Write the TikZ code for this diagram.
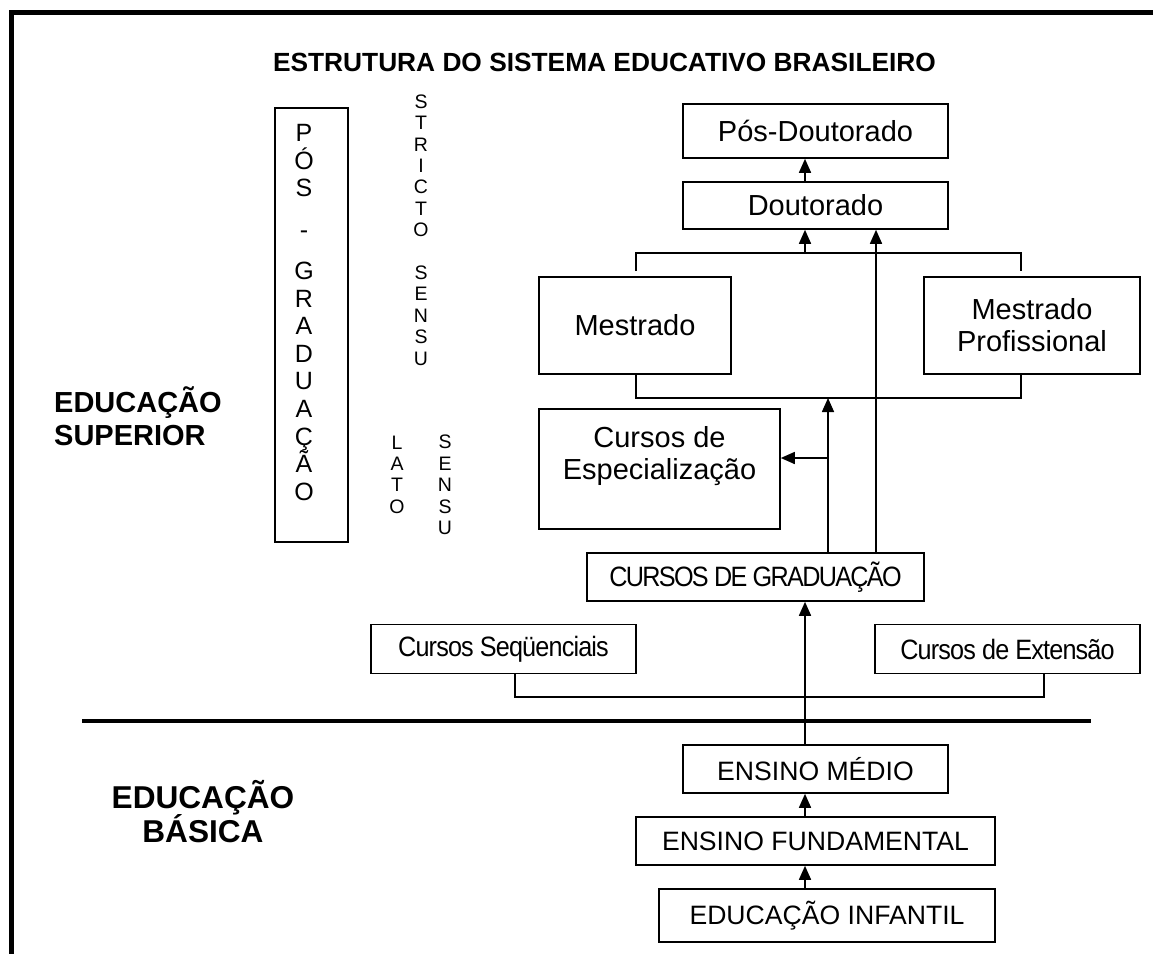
\documentclass[tikz,border=0pt]{standalone}
\usepackage{fontspec}
\setmainfont{Liberation Sans}
\newfontfamily\gradfont[FakeStretch=0.9, LetterSpace=-6]{Liberation Sans}
\newfontfamily\cursofont[FakeStretch=0.9, LetterSpace=-3]{Liberation Sans}
\usetikzlibrary{arrows.meta}
\lineskiplimit=-100bp

\begin{document}
\begin{tikzpicture}[x=1bp, y=-1bp,
	box/.style = {draw, line width=1.6bp, inner sep=0pt, align=center, font=\fontsize{29bp}{32.5bp}\selectfont},
	lowbox/.style = {box, font=\fontsize{26.6bp}{30bp}\selectfont},
	gradbox/.style = {box, font=\gradfont\fontsize{28bp}{30bp}\selectfont},
	cursobox/.style = {box, font=\cursofont\fontsize{28bp}{30bp}\selectfont},
	vtext/.style = {align=center, inner sep=0pt, font=\fontsize{19.5bp}{21.4bp}\selectfont},
	link/.style = {line width=1.6bp},
	arr/.style = {link, -{Triangle[length=14bp, width=12bp]}}]
	\useasboundingbox (0, 0) rectangle (1153, 954);
	\draw[line width=5bp] (11.5, 954) -- (11.5, 12.5) -- (1153, 12.5);

	\node (title) at (604.5, 62)	[font=\bfseries\fontsize{26.3bp}{30bp}\selectfont]	{ESTRUTURA DO SISTEMA EDUCATIVO BRASILEIRO};
	\node (ES) at (54, 416)	[anchor=west, align=left, inner sep=0pt, font=\bfseries\fontsize{29bp}{33bp}\selectfont]	{EDUCAÇÃO\\SUPERIOR};
	\node (EB) at (203, 811.5)	[align=center, inner sep=0pt, font=\bfseries\fontsize{31.6bp}{34bp}\selectfont]	{EDUCAÇÃO\\BÁSICA};

	% pos-graduacao column
	\node (PGB) at (311.5, 325)	[box, minimum width=73bp, minimum height=434bp]	{};
	\node (PG) at (304, 312.5)	[vtext, font=\fontsize{25bp}{27.6bp}\selectfont]	{P\\Ó\\S\\[13.8bp]-\\[13.8bp]G\\R\\A\\D\\U\\A\\Ç\\Ã\\O};
	\node (SS) at (421, 230)	[vtext]	{S\\T\\R\\I\\C\\T\\O\\~\\S\\E\\N\\S\\U};
	\node (LT) at (397, 474.5)	[vtext]	{L\\A\\T\\O};
	\node (LS) at (445, 485)	[vtext]	{S\\E\\N\\S\\U};

	% boxes
	\node (PD) at (815.5, 131)	[box, minimum width=265bp, minimum height=54bp]	{Pós-Doutorado};
	\node (D) at (815.5, 205.5)	[box, minimum width=265bp, minimum height=47bp]	{Doutorado};
	\node (M) at (635, 325.5)	[box, minimum width=192bp, minimum height=97bp]	{Mestrado};
	\node (MP) at (1032, 325.5)	[box, minimum width=216bp, minimum height=97bp, font=\fontsize{29bp}{32bp}\selectfont]	{Mestrado\\Profissional};
	\node (CE) at (659.5, 469)	[box, minimum width=241bp, minimum height=120bp]	{Cursos de\\Especialização\\~};
	\node (CG) at (755.5, 577)	[gradbox, minimum width=337bp, minimum height=48bp]	{CURSOS DE GRADUAÇÃO};
	\node (CS) at (503.5, 649)	[cursobox, minimum width=265bp, minimum height=49bp]	{Cursos Seqüenciais};
	\node (CX) at (1007.5, 649)	[cursobox, minimum width=265bp, minimum height=49bp]	{Cursos de Extensão};
	\node (EM) at (815.5, 769)	[lowbox, minimum width=265bp, minimum height=48bp]	{ENSINO MÉDIO};
	\node (EF) at (815.5, 841)	[lowbox, minimum width=359bp, minimum height=48bp]	{ENSINO FUNDAMENTAL};
	\node (EI) at (827, 915.5)	[lowbox, minimum width=336bp, minimum height=53bp]	{EDUCAÇÃO INFANTIL};

	% connector points
	\coordinate (X1) at (805, 0);
	\coordinate (X2) at (876, 0);
	\coordinate (X4) at (636, 0);
	\coordinate (X5) at (1021, 0);
	\coordinate (X6) at (515, 0);
	\coordinate (X7) at (1044, 0);
	\coordinate (T1) at (636, 271);
	\coordinate (T2) at (1021, 271);
	\coordinate (B1) at (805, 253);
	\coordinate (B2) at (828, 398);
	\coordinate (B3) at (828, 458);
	\coordinate (B4) at (805, 697);
	\coordinate (S1) at (82, 721);
	\coordinate (S2) at (1091, 721);

	\draw[arr] (D.north -| X1) -- (PD.south -| X1);
	\draw[link] (T1) |- (B1) -| (T2);
	\draw[arr] (B1) -- (D.south -| B1);
	\draw[arr] (CG.north -| X2) -- (D.south -| X2);
	\draw[link] (M.south -| X4) |- (B2) -| (MP.south -| X5);
	\draw[arr] (CG.north -| B2) -- (B2);
	\draw[arr] (B3) -- (CE.east |- B3);
	\draw[arr] (EM.north -| X1) -- (CG.south -| X1);
	\draw[link] (CS.south -| X6) |- (B4) -| (CX.south -| X7);
	\draw[arr] (EF.north -| X1) -- (EM.south -| X1);
	\draw[arr] (EI.north -| X1) -- (EF.south -| X1);
	\draw[line width=3.5bp] (S1) -- (S2);
\end{tikzpicture}
\end{document}
